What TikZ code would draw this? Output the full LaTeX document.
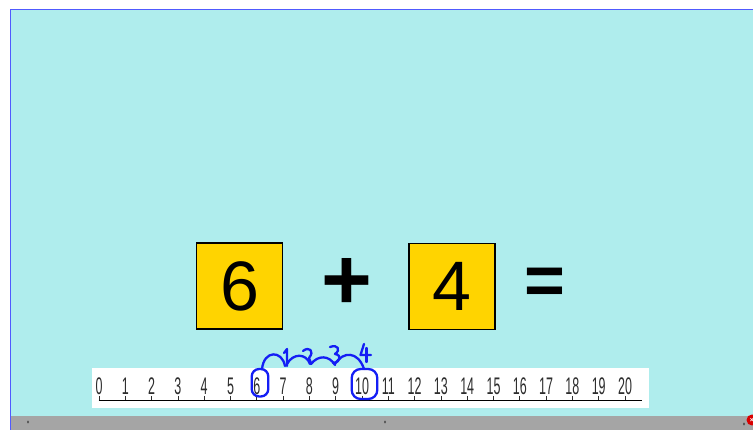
\documentclass[tikz,border=0pt]{standalone}
\usepackage{fontspec}
\setmainfont{Liberation Sans}
\newfontfamily\narrowfont[FakeStretch=0.52]{Liberation Sans}
\definecolor{bgcyan}{RGB}{175,237,237}
\definecolor{bargray}{RGB}{165,165,165}
\definecolor{borderblue}{RGB}{80,90,255}
\definecolor{boxgold}{RGB}{255,212,0}
\definecolor{inkblue}{RGB}{20,30,245}
\definecolor{numgray}{RGB}{45,45,45}
\tikzset{
  numbox/.style={draw=black, line width=1.8pt, fill=boxgold, minimum width=86pt, minimum height=86pt, inner sep=0pt, font=\fontsize{70}{70}\selectfont},
  optxt/.style={inner sep=0pt, font=\fontsize{#1}{#1}\selectfont\bfseries},
  numtxt/.style={inner sep=0pt, text=numgray, font=\narrowfont\fontsize{24}{24}\selectfont},
  tickmark/.style={draw=numgray, line width=0.8pt},
  hand/.style={draw=inkblue, line width=2.3pt, line cap=round, line join=round},
}
\begin{document}
\begin{tikzpicture}[x=1pt,y=-1pt]
\useasboundingbox (0,0) rectangle (753,430);
\fill[white] (0,0) rectangle (753,430);
\fill[bgcyan] (10,9) rectangle (753,416);
\fill[bargray] (10,416) rectangle (753,430);
\draw[borderblue, line width=1.2pt] (10.6,430) -- (10.6,9.6) -- (753,9.6);
% bottom bar details
\fill[gray!60!black] (28,422) ellipse (1pt and 1.6pt);
\fill[gray!60!black] (385,422) ellipse (1pt and 1.6pt);
\fill[gray!60!black] (744,424) ellipse (1pt and 1.6pt);
\node[circle, fill=red!85!black, minimum size=11pt, inner sep=0pt, text=white, font=\fontsize{7}{7}\selectfont\bfseries] (close) at (752,420) {×};

% equation
\node[numbox] (b6) at (239.5,286) {6};
\node[optxt=87] (plus) at (347,284) {+};
\node[numbox] (b4) at (452,286.5) {4};
\node[optxt=70] (eq) at (545,286) {=};

% number line
\fill[white] (92.3,368.3) rectangle (649.3,408.3);
\coordinate (L) at (98.5,400.5);
\coordinate (R) at (641.7,400.5);
\foreach \i in {0,...,20} {
  \node[numtxt] (n\i) at ({99+26.3*\i},386.5) {\i};
  \draw[tickmark] ({99+26.3*\i},396) -- ({99+26.3*\i},400);
}
\draw[black, line width=1.8pt] (L) -- (R);

% handwriting
\draw[hand, rounded corners=7.5pt] (251.7,369) rectangle (268.3,396.5);
\draw[hand, rounded corners=9pt] (351.7,369) rectangle (377.3,399);
\draw[hand] (262,369) .. controls (264,350) and (282,350) .. (285,366);
\draw[hand] (284,353) -- (287,349) -- (287,366);
\draw[hand] (287,364) .. controls (293,353) and (306,353) .. (310,364);
\draw[hand] (303,351) .. controls (309,346) and (315,351) .. (309,358) -- (311,363);
\draw[hand] (311,364) .. controls (318,355) and (329,355) .. (335,365);
\draw[hand] (330,347) .. controls (338,344) and (341,350) .. (335,354) .. controls (342,355) and (341,362) .. (333,363);
\draw[hand] (335,364) .. controls (343,351) and (358,351) .. (364,369);
\draw[hand] (364,344) -- (360.5,355) -- (371,355);
\draw[hand] (366.5,348) -- (366.5,362);
\end{tikzpicture}
\end{document}
